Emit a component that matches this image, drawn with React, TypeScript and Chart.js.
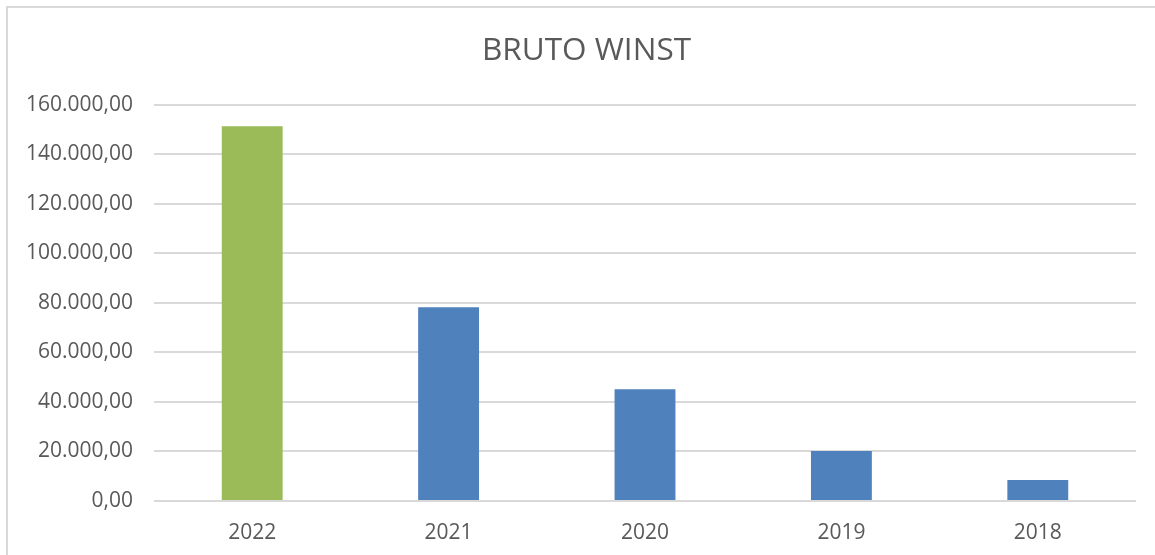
import React, { useEffect, useRef } from "react";
import { Chart, registerables } from "chart.js";

Chart.register(...registerables);

const categories = ["2022", "2021", "2020", "2019", "2018"];
const values = [151300, 78200, 45100, 20200, 8500];
const barColors = ["#9BBB59", "#4F81BD", "#4F81BD", "#4F81BD", "#4F81BD"];
const titleText = "BRUTO WINST";
const yMin = 0;
const yMax = 160000;
const yStep = 20000;

function formatNl(v: number): string {
  const fixed = Math.abs(v).toFixed(2);
  const [intPart, dec] = fixed.split(".");
  const withDots = intPart.replace(/\B(?=(\d{3})+(?!\d))/g, ".");
  return (v < 0 ? "-" : "") + withDots + "," + dec;
}

export default function App() {
  const canvasRef = useRef<HTMLCanvasElement | null>(null);

  useEffect(() => {
    const ctx = canvasRef.current;
    if (!ctx) return;
    const textColor = "#595959";
    const font = "'Open Sans', 'DejaVu Sans', sans-serif";
    const chart = new Chart(ctx, {
      type: "bar",
      data: {
        labels: categories,
        datasets: [
          {
            label: titleText,
            data: values,
            backgroundColor: barColors,
            borderWidth: 0,
            categoryPercentage: 1,
            barPercentage: 0.31,
          },
        ],
      },
      options: {
        animation: false,
        responsive: false,
        maintainAspectRatio: false,
        layout: { padding: { left: 18, right: 0, top: 0, bottom: 0 } },
        plugins: {
          legend: { display: false },
          tooltip: { enabled: false },
          title: {
            display: true,
            text: titleText,
            color: textColor,
            font: { family: font, size: 31.5, weight: "normal" },
            padding: { top: 32, bottom: 35 },
          },
        },
        scales: {
          x: {
            grid: { display: false, drawTicks: false },
            border: { display: false },
            ticks: {
              color: textColor,
              font: { family: font, size: 21 },
              padding: 19,
            },
            afterFit: (scale: any) => {
              scale.height = 54;
            },
          },
          y: {
            min: yMin,
            max: yMax,
            grid: { color: "#d9d9d9", lineWidth: 2, drawTicks: false },
            border: { display: false },
            ticks: {
              stepSize: yStep,
              color: textColor,
              font: { family: font, size: 21 },
              padding: 21,
              callback: (v: any) => formatNl(Number(v)),
            },
            afterFit: (scale: any) => {
              scale.width = 136;
            },
          },
          yRight: {
            position: "right",
            display: true,
            grid: { display: false, drawTicks: false },
            border: { display: false },
            ticks: { display: false },
            afterFit: (scale: any) => {
              scale.width = 19;
            },
          },
        },
      },
    });
    return () => chart.destroy();
  }, []);

  return (
    <div
      style={{
        position: "fixed",
        left: 0,
        top: 0,
        width: 1155,
        height: 555,
        background: "#ffffff",
        overflow: "hidden",
      }}
    >
      <div
        style={{
          position: "absolute",
          left: 6,
          top: 6,
          width: 1200,
          height: 600,
          borderLeft: "2px solid #d9d9d9",
          borderTop: "2px solid #d9d9d9",
        }}
      />
      <canvas
        ref={canvasRef}
        width={1155}
        height={555}
        style={{ position: "absolute", left: 0, top: 0, width: 1155, height: 555 }}
      />
    </div>
  );
}
